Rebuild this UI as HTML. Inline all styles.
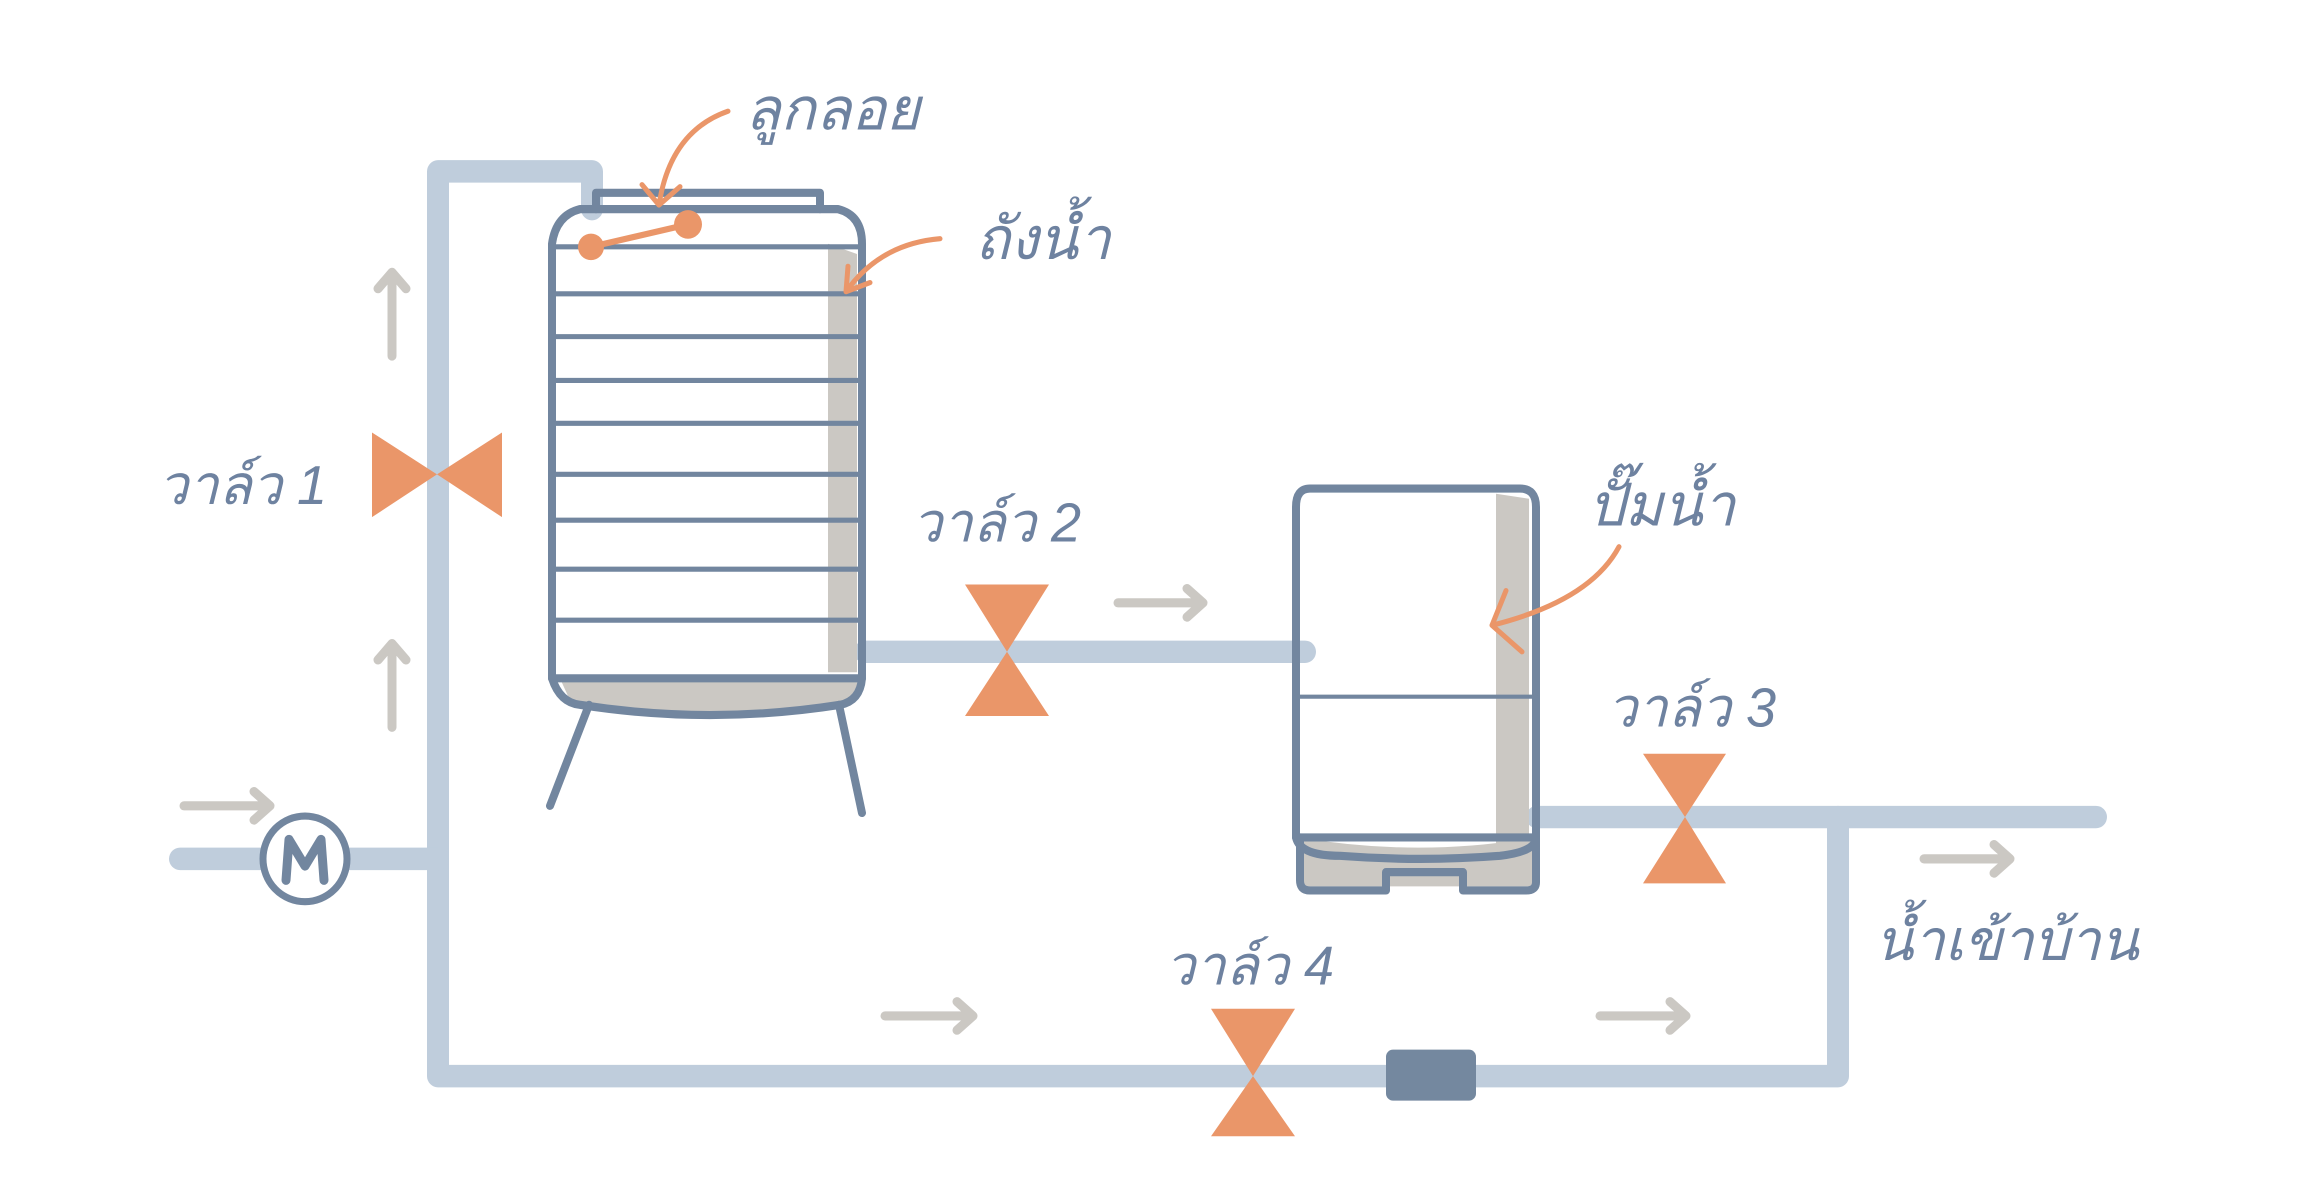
<!DOCTYPE html>
<html><head><meta charset="utf-8"><style>
html,body{margin:0;padding:0;background:#fff;}
svg{display:block;}
text{font-family:"Liberation Sans","DejaVu Sans",sans-serif;fill:#6e82a0;font-style:italic;}
</style></head><body>
<svg width="2308" height="1177" viewBox="0 0 2308 1177" xmlns="http://www.w3.org/2000/svg">
<g transform="translate(0,-1) scale(1,1.02)">
<g fill="none" stroke-linecap="round" stroke-linejoin="round">
<g stroke="#bfcddc" stroke-width="22">
<path d="M592,206 L592,169 L438,169 L438,1056 L1838,1056 L1838,802"/>
<path d="M180,843 L438,843"/>
<path d="M865,640 L1305,640"/>
<path d="M1537,802 L2096,802"/>
</g>
<g stroke="#cbc8c3" stroke-width="9">
<path d="M392,350 L392,268 M378,284 L392,268 L406,284"/>
<path d="M392,714 L392,632 M378,648 L392,632 L406,648"/>
<path d="M184,791 L270,791 M254,777 L270,791 L254,805"/>
<path d="M1118,592 L1203,592 M1187,578 L1203,592 L1187,606"/>
<path d="M885,997 L973,997 M957,983 L973,997 L957,1011"/>
<path d="M1600,997 L1686,997 M1670,983 L1686,997 L1670,1011"/>
<path d="M1924,843 L2010,843 M1994,829 L2010,843 L1994,857"/>
</g>
<path d="M828,240 L857,250 L857,660 L828,660 Z" fill="#cbc8c3" stroke="none"/>
<path d="M560,666 L862,666 L850,692 Q710,712 572,692 Z" fill="#cbc8c3" stroke="none"/>
<g stroke="#72869f" stroke-width="8">
<path d="M596,206 L596,190 L820,190 L820,206"/>
<path d="M580,206 L838,206 Q862,212 862,240 L862,666 L552,666 L552,240 Q556,212 580,206 Z"/>
<path d="M552,666 Q560,690 580,692 Q710,712 840,692 Q860,688 862,666"/>
<path d="M589,692 L550,791"/>
<path d="M839,692 L862,798"/>
</g>
<g stroke="#72869f" stroke-width="5">
<path d="M556,243 H858 M556,289 H858 M556,331 H858 M556,374 H858 M556,416 H858 M556,466 H858 M556,511 H858 M556,559 H858 M556,609 H858"/>
</g>
<path d="M591,243 L688,221" stroke="#ea9669" stroke-width="6"/>
<circle cx="591" cy="243" r="13" fill="#ea9669" stroke="none"/>
<circle cx="688" cy="221" r="14" fill="#ea9669" stroke="none"/>
<path d="M1496,485 L1529,490 L1529,835 L1496,835 Z" fill="#cbc8c3" stroke="none"/>
<path d="M1300,822 Q1420,842 1534,822 L1534,870 L1300,870 Z" fill="#cbc8c3" stroke="none"/>
<g stroke="#72869f" stroke-width="8">
<path d="M1310,480 L1520,480 Q1536,480 1536,498 L1536,822 L1296,822 L1296,498 Q1296,480 1310,480 Z"/>
<path d="M1296,822 Q1300,840 1340,840 Q1420,846 1500,840 Q1536,836 1536,822 L1536,866 Q1536,874 1526,874 L1463,874 L1463,856 L1386,856 L1386,874 L1310,874 Q1300,874 1300,864 L1300,822"/>
</g>
<path d="M1296,684 H1536" stroke="#72869f" stroke-width="4"/>
<circle cx="305" cy="843" r="42" fill="#fff" stroke="#72869f" stroke-width="7"/>
<path d="M286,864 L289,824 L305,850 L321,824 L324,864" stroke="#72869f" stroke-width="9"/>
<rect x="1386" y="1030" width="90" height="50" rx="7" fill="#74889f" stroke="none"/>
<g fill="#ea9669" stroke="none">
<path d="M372,425 L437,466 L372,508 Z M502,425 L437,466 L502,508 Z"/>
<path d="M965,574 L1049,574 L1007,640 Z M965,703 L1049,703 L1007,640 Z"/>
<path d="M1643,740 L1726,740 L1685,802 Z M1643,867 L1726,867 L1685,802 Z"/>
<path d="M1211,990 L1295,990 L1253,1056 Z M1211,1115 L1295,1115 L1253,1056 Z"/>
</g>
<g stroke="#ea9669" stroke-width="5">
<path d="M728,110 Q670,130 659,202 M642,182 L659,202 L680,184"/>
<path d="M940,235 Q880,240 846,287 M848,262 L846,287 L870,278"/>
<path d="M1619,537 Q1590,590 1492,614 M1506,580 L1492,614 L1522,640"/>
</g>
</g>
<text x="745" y="128" font-size="58">ลูกลอย</text>
<text x="975" y="255" font-size="58">ถังน้ำ</text>
<text x="158" y="495" font-size="54">วาล์ว 1</text>
<text x="912" y="532" font-size="54">วาล์ว 2</text>
<text x="1588" y="516" font-size="58">ปั๊มน้ำ</text>
<text x="1607" y="713" font-size="54">วาล์ว 3</text>
<text x="1165" y="966" font-size="54">วาล์ว 4</text>
<text x="1875" y="942" font-size="56">น้ำเข้าบ้าน</text>
</g>
</svg>
</body></html>
